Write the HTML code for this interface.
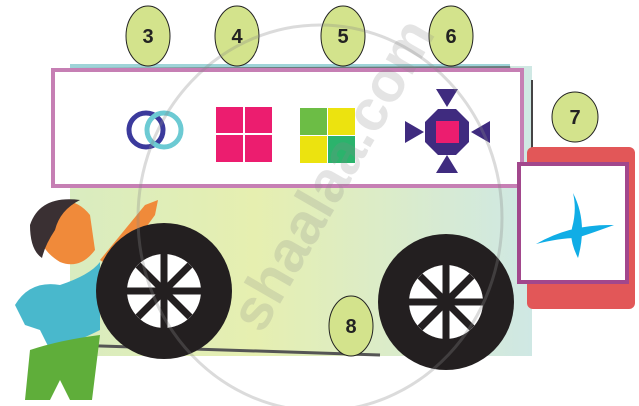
<!DOCTYPE html>
<html><head><style>
html,body{margin:0;padding:0;background:#fff;width:639px;height:406px;overflow:hidden}
svg{display:block}
text{font-family:"Liberation Sans",sans-serif;font-weight:bold}
</style></head><body>
<svg width="639" height="406" viewBox="0 0 639 406" xmlns="http://www.w3.org/2000/svg">
<defs>
<linearGradient id="bg" x1="0" y1="0" x2="1" y2="0">
<stop offset="0" stop-color="#d9ecc0"/><stop offset="0.4" stop-color="#e6efb0"/><stop offset="1" stop-color="#cfe8e4"/>
</linearGradient>
</defs>
<rect x="70" y="66" width="462" height="290" fill="url(#bg)"/>
<rect x="70" y="64" width="440" height="10" fill="#9fd4d8"/>
<path d="M68 68 L510 66 L512 76 L70 78 Z" fill="#555" opacity="0.7"/>
<line x1="532" y1="80" x2="532" y2="180" stroke="#444" stroke-width="2"/>
<path d="M70 345 L380 355" stroke="#555" stroke-width="3"/>
<rect x="527" y="147" width="108" height="162" rx="6" fill="#e25758"/>
<rect x="53" y="70" width="469" height="116" fill="#fff" stroke="#c67fb4" stroke-width="4"/>
<rect x="519" y="164" width="108" height="118" fill="#fff" stroke="#a2478c" stroke-width="4"/>
<path d="M536 244 Q570 224 614 225 Q584 236 576 238 Q560 238 536 244Z" fill="#10ade6"/>
<path d="M573 193 Q588 222 578 258 Q569 240 572 228 Q577 210 573 193Z" fill="#10ade6"/>
<g fill="#d3e38c" stroke="#222" stroke-width="1">
<ellipse cx="148" cy="36" rx="22" ry="30"/>
<ellipse cx="237" cy="36" rx="22" ry="30"/>
<ellipse cx="343" cy="36" rx="22" ry="30"/>
<ellipse cx="451" cy="36" rx="22" ry="30"/>
<ellipse cx="575" cy="117" rx="23" ry="25"/>
<ellipse cx="351" cy="326" rx="22" ry="30"/>
</g>
<g font-size="20" fill="#222" text-anchor="middle">
<text x="148" y="43">3</text><text x="237" y="43">4</text><text x="343" y="43">5</text><text x="451" y="43">6</text>
<text x="575" y="124">7</text><text x="351" y="333">8</text>
</g>
<circle cx="146" cy="130" r="17" fill="none" stroke="#3b3a9c" stroke-width="5"/>
<circle cx="164" cy="130" r="17" fill="none" stroke="#6ccad3" stroke-width="5"/>
<g fill="#ec1d6f">
<rect x="216" y="107" width="27" height="26"/><rect x="245" y="107" width="27" height="26"/>
<rect x="216" y="135" width="27" height="27"/><rect x="245" y="135" width="27" height="27"/>
</g>
<rect x="300" y="108" width="27" height="27" fill="#6cbd45"/>
<rect x="328" y="108" width="27" height="27" fill="#ece30f"/>
<rect x="300" y="136" width="27" height="27" fill="#ece30f"/>
<rect x="328" y="136" width="27" height="27" fill="#2bb36c"/>
<g fill="#3f2b7f">
<polygon points="438,109 456,109 469,122 469,142 456,155 438,155 425,142 425,122"/>
<polygon points="436,89 458,89 447,107"/>
<polygon points="436,173 458,173 447,155"/>
<polygon points="405,121 405,143 424,132"/>
<polygon points="490,121 490,143 471,132"/>
</g>
<rect x="436" y="121" width="23" height="22" fill="#ec1d6f"/>
<path d="M40 210 Q70 190 90 215 L95 250 Q80 270 60 262 Q40 250 38 230Z" fill="#f08a3a"/>
<path d="M30 225 Q40 195 80 200 Q60 210 55 230 Q45 245 42 258 Q30 250 30 225Z" fill="#3a3033"/>
<path d="M100 260 L145 205 L158 200 L155 215 L115 270Z" fill="#f08a3a"/>
<path d="M15 305 Q30 280 60 285 Q90 275 100 262 L100 330 Q70 345 50 350 L40 330 L25 325Z" fill="#49b8cc"/>
<path d="M30 350 Q60 340 100 335 L92 400 L70 400 L60 380 L50 400 L25 400Z" fill="#5fae3a"/>
<g>
<circle cx="164" cy="291" r="68" fill="#231f20"/>
<circle cx="164" cy="291" r="37" fill="#fff"/>
<circle cx="446" cy="302" r="68" fill="#231f20"/>
<circle cx="446" cy="302" r="37" fill="#fff"/>
<g stroke="#231f20" stroke-width="7">
<line x1="164" y1="254" x2="164" y2="328"/><line x1="127" y1="291" x2="201" y2="291"/>
<line x1="138" y1="265" x2="190" y2="317"/><line x1="190" y1="265" x2="138" y2="317"/>
<line x1="446" y1="265" x2="446" y2="339"/><line x1="409" y1="302" x2="483" y2="302"/>
<line x1="420" y1="276" x2="472" y2="328"/><line x1="472" y1="276" x2="420" y2="328"/>
</g>
</g>
<ellipse cx="320" cy="218" rx="182" ry="193" fill="none" stroke="#888" stroke-width="3" opacity="0.3"/>
<text x="0" y="0" transform="translate(262,335) rotate(-60)" font-size="58" fill="#888" opacity="0.22" font-weight="normal">shaalaa.com</text>
</svg>
</body></html>
